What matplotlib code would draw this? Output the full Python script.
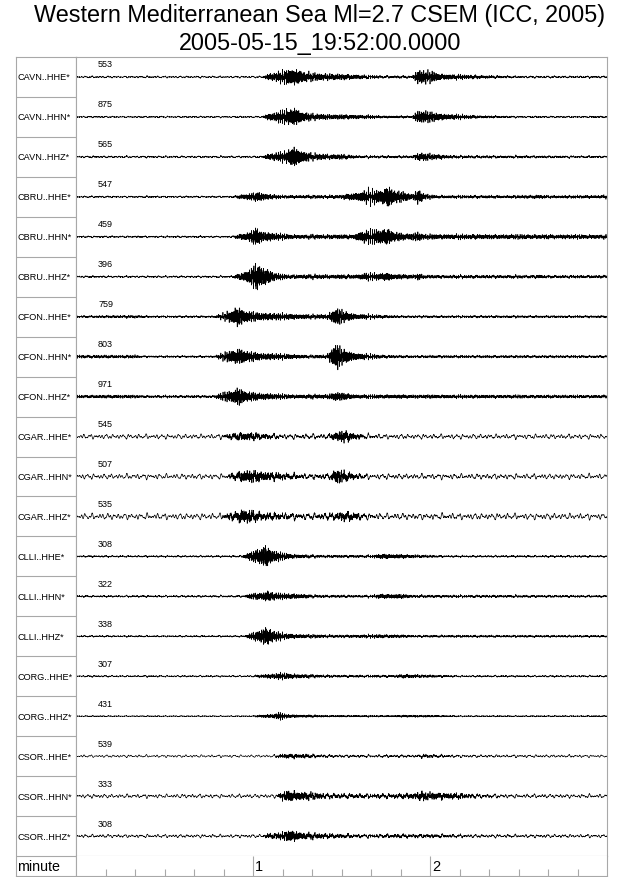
import numpy as np
import matplotlib
matplotlib.use("Agg")
import matplotlib.pyplot as plt

plt.rcParams["font.family"] = ["Liberation Sans", "DejaVu Sans"]

TITLE = "Western Mediterranean Sea Ml=2.7 CSEM (ICC, 2005)"
SUBTITLE = "2005-05-15_19:52:00.0000"

STATIONS = [
    "CAVN..HHE*", "CAVN..HHN*", "CAVN..HHZ*",
    "CBRU..HHE*", "CBRU..HHN*", "CBRU..HHZ*",
    "CFON..HHE*", "CFON..HHN*", "CFON..HHZ*",
    "CGAR..HHE*", "CGAR..HHN*", "CGAR..HHZ*",
    "CLLI..HHE*", "CLLI..HHN*", "CLLI..HHZ*",
    "CORG..HHE*", "CORG..HHZ*",
    "CSOR..HHE*", "CSOR..HHN*", "CSOR..HHZ*",
]
AMPLITUDES = [553, 875, 565, 547, 459, 396, 759, 803, 971,
              545, 507, 535, 308, 322, 338, 307, 431, 539, 333, 308]

# background (microseism) level per trace, in screen pixels
BACKGROUND = [0.8, 0.6, 0.8, 0.7, 0.7, 0.8, 0.6, 0.6, 0.6,
              2.2, 2.5, 2.8, 0.7, 0.7, 0.6, 0.7, 0.4, 1.2, 1.8, 1.5]

# envelope of the event signal: (seconds after start, half amplitude in px)
ENVELOPES = [
    # CAVN
    [(0, .4), (63, .4), (65, 3), (72, 8), (74, 10), (77, 6), (80, 4), (90, 3), (104, 1),
     (114, 1), (116, 8), (120, 6), (124, 3), (138, 1.5), (150, .6), (180, .6)],
    [(0, .4), (63, .4), (65, 3), (72, 8), (74, 10), (77, 5), (80, 3), (95, 2), (105, 1),
     (114, 1), (116, 7), (120, 5), (125, 3), (136, 1.3), (150, .5), (180, .5)],
    [(0, .5), (63, .5), (65, 3), (71, 6), (74, 12), (77, 6), (80, 3.5), (90, 2.5), (97, 1),
     (114, 1), (116, 4.5), (121, 3), (128, 1.2), (180, .6)],
    # CBRU
    [(0, .5), (53, .5), (55, 2), (60, 4), (62, 5.5), (65, 3), (70, 1.5), (90, 1.8), (92, 3.5),
     (96, 5), (99, 8), (103, 7), (106, 13), (108, 7), (111, 5.5), (114, 3), (116, 9), (118, 3),
     (122, 1.5), (150, 1.3), (157, 2), (160, 1.3), (178, 1.5), (180, 2)],
    [(0, .5), (53, .5), (55, 2.5), (59, 5), (61, 10), (64, 5), (70, 3), (75, 2), (94, 2.2),
     (97, 6), (102, 7.5), (106, 9), (108, 5), (112, 3), (116, 5), (118, 2.5), (180, 2)],
    [(0, .5), (53, .5), (55, 3), (59, 8), (61, 15), (64, 9), (68, 3.5), (72, 2), (95, 2),
     (98, 3.5), (103, 3.5), (106, 4.5), (108, 2.5), (115, 2), (116, 4), (118, 1.5),
     (155, 1.3), (157, 2), (159, 1.2), (180, 1.2)],
    # CFON
    [(0, .8), (15, 1.3), (20, 1.3), (25, .8), (47, .8), (49, 2.5), (53, 7), (55, 14), (57, 7),
     (62, 4.5), (70, 3.5), (80, 2.2), (85, 2.5), (87, 7), (88.5, 10), (91, 6), (95, 3),
     (103, 1.8), (110, 1), (180, 1)],
    [(0, 1.5), (20, 1.5), (22, .8), (47, .8), (49, 3), (53, 7), (55, 10), (58, 6), (63, 4),
     (70, 3), (80, 1.5), (85, 2), (87, 10), (88.5, 16), (90, 9), (95, 4), (103, 1.8),
     (110, 1.2), (180, 1.1)],
    [(0, 1.3), (18, 1.5), (22, 1), (47, 1), (49, 3), (53, 6), (55, 10), (58, 5), (65, 3),
     (75, 1.8), (85, 2), (88, 4.5), (91, 3.5), (95, 1.8), (180, 1.3)],
    # CGAR
    [(0, .3), (49, .3), (52, 2), (56, 4), (60, 3.5), (64, 2), (70, .8), (85, .8), (88, 4),
     (91, 6), (94, 3), (98, 1), (105, .4), (180, .3)],
    [(0, .3), (51, .3), (53, 2.5), (57, 6), (60, 6), (65, 4), (71, 2.5), (78, 1), (86, 1.5),
     (88.5, 8), (91, 5), (95, 2), (100, .5), (180, .3)],
    [(0, .3), (49, .3), (52, 2.5), (55, 5), (57, 7), (60, 5), (64, 3), (71, 2), (78, 1),
     (87, 2), (90, 4), (94, 3.5), (97, 1.5), (103, .5), (180, .3)],
    # CLLI
    [(0, .5), (56, .5), (58, 3), (62, 8), (64, 12), (66, 7), (70, 3.5), (74, 2), (80, 1.2),
     (100, 1), (104, 2.5), (108, 2), (118, 1.2), (125, .6), (180, .6)],
    [(0, .6), (57, .6), (59, 3), (63, 4), (65, 6), (68, 3.5), (76, 2.5), (80, 1.3), (100, 1),
     (103, 2.5), (110, 2.3), (115, 1.2), (180, .8)],
    [(0, .5), (57, .5), (59, 3), (62, 6), (64, 11), (67, 6), (71, 3), (78, 1.8), (90, 1.3),
     (103, 1.8), (108, 1.6), (115, 1), (180, .8)],
    # CORG
    [(0, .4), (60, .4), (62, 1.5), (67, 2.5), (69, 3.5), (75, 2.2), (80, 1.5), (88, 1),
     (108, 1), (112, 2), (118, 1.3), (125, .8), (130, .5), (180, .5)],
    [(0, .3), (60, .3), (62, 1.2), (67, 2), (69, 4), (71, 2), (76, 1.3), (85, .8), (108, .7),
     (112, 1.1), (122, .8), (130, .4), (180, .4)],
    # CSOR
    [(0, .2), (67, .2), (69, 1.5), (72, 2.2), (78, 1.8), (82, 1), (90, .6), (115, .6),
     (118, 1.5), (122, 1), (130, .4), (180, .2)],
    [(0, .3), (68, .3), (70, 4), (72, 6), (76, 4.5), (80, 3.5), (85, 2), (100, 1.5), (110, 1.8),
     (115, 3), (117, 5), (120, 3.5), (130, 2.5), (136, 1), (145, .5), (180, .3)],
    [(0, .3), (63, .3), (65, 2), (70, 3.5), (73, 6.5), (76, 3.5), (80, 2.5), (88, 1.8),
     (95, 1), (115, 1.3), (125, 1), (135, .5), (180, .3)],
]

DURATION = 180      # seconds shown
RATE = 50           # samples per second
MINUTE_TICKS = [1, 2]
ROW = 40            # one trace row, in px

# carrier frequencies (Hz) used to draw the wiggles under the envelopes
HF = [2.13, 3.37, 4.91, 6.29, 7.73, 9.17]
LF = [0.37, 0.53, 0.81, 1.13]

GRID = "#a8a8a8"
W, H = 640, 878


def box(left, top, right, bottom):
    return [left / W, 1 - bottom / H, (right - left) / W, (bottom - top) / H]


def carrier(t, freqs, seed):
    sig = sum(np.sin(2 * np.pi * f * t + 1.7 * k + 2.3 * seed) for k, f in enumerate(freqs))
    return sig / np.abs(sig).max()


fig = plt.figure(figsize=(W / 100, H / 100), dpi=100)
ax_lab = fig.add_axes(box(16, 58, 76, 877))
ax_tr = fig.add_axes(box(76, 58, 607, 857))
ax_min = fig.add_axes(box(76, 857, 607, 877))

t = np.arange(DURATION * RATE + 1) / RATE
for i, env_pts in enumerate(ENVELOPES):
    et, ea = zip(*env_pts)
    env = np.interp(t, et, ea)
    y = 1.25 * env * carrier(t, HF, i) + 1.3 * BACKGROUND[i] * carrier(t, LF, i + 0.5)
    ax_tr.plot(t / 60, ROW * i + ROW / 2 - y, color="black", lw=0.5)
    ax_tr.text(7.5 / 60, ROW * i + 7, str(AMPLITUDES[i]), fontsize=6.5,
               ha="left", va="center")
    ax_lab.text(0.017, ROW * i + ROW / 2, STATIONS[i], fontsize=6.6,
                ha="left", va="center")

n = len(STATIONS)
ax_tr.set_xlim(0, DURATION / 60)
ax_tr.set_ylim(n * ROW, 0)
ax_tr.set_xticks([])
ax_tr.set_yticks([])

ax_lab.set_xlim(0, 1)
ax_lab.set_ylim(n * ROW + 20, 0)
ax_lab.set_xticks([])
ax_lab.set_yticks([])
ax_lab.hlines([ROW * k for k in range(1, n + 1)], 0, 1, color=GRID, lw=0.8)
ax_lab.text(0.017, n * ROW + 10, "minute", fontsize=10.3, ha="left", va="center")

ax_min.set_xlim(0, DURATION / 60)
ax_min.set_ylim(0, 1)
ax_min.set_yticks([])
ax_min.set_xticks(MINUTE_TICKS)
ax_min.set_xticklabels([])
ax_min.set_xticks([s / 60 for s in range(10, DURATION, 10) if s % 60], minor=True)
ax_min.tick_params(axis="x", which="major", direction="in", length=14.4,
                   width=0.8, color=GRID)
ax_min.tick_params(axis="x", which="minor", direction="in", length=5,
                   width=0.8, color=GRID)
for m in MINUTE_TICKS:
    ax_min.annotate(str(m), (m, 0.5), xytext=(1.5, 0), textcoords="offset points",
                    fontsize=10.5, ha="left", va="center")

for ax in (ax_lab, ax_tr, ax_min):
    for sp in ax.spines.values():
        sp.set_color(GRID)
        sp.set_linewidth(0.8)
ax_min.spines["top"].set_visible(False)

fig.text(0.5, 1 - 22 / H, TITLE, ha="center", va="baseline", fontsize=16.8)
fig.text(0.5, 1 - 50 / H, SUBTITLE, ha="center", va="baseline", fontsize=16.8)

fig.savefig("out.png", dpi=100)
